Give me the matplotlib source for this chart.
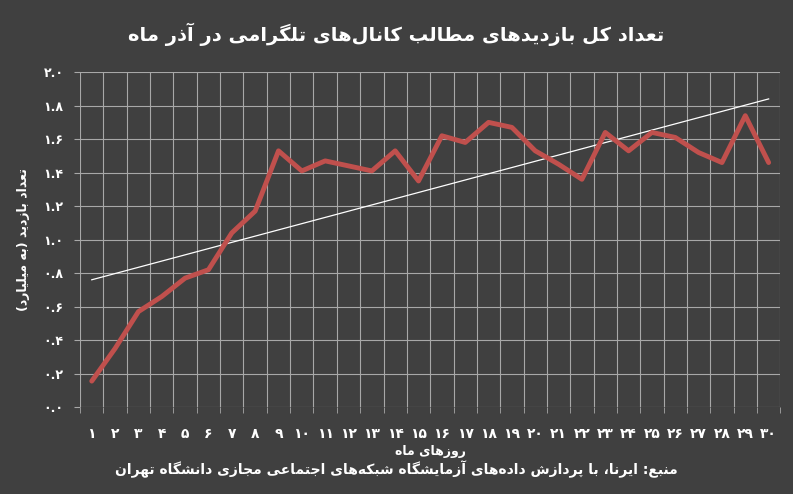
import matplotlib
matplotlib.use("Agg")
import matplotlib.pyplot as plt
import numpy as np

# بازدیدها (میلیارد) برای روزهای ۱ تا ۳۰ آذر
days = list(range(1, 31))
views = [0.155, 0.35, 0.57, 0.66, 0.77, 0.82, 1.04, 1.17, 1.53, 1.41,
         1.47, 1.44, 1.41, 1.53, 1.35, 1.62, 1.58, 1.70, 1.67, 1.53,
         1.45, 1.36, 1.64, 1.53, 1.64, 1.61, 1.52, 1.46, 1.74, 1.46]
trend_ends = [0.76, 1.84]
yticks = [0.0, 0.2, 0.4, 0.6, 0.8, 1.0, 1.2, 1.4, 1.6, 1.8, 2.0]

title = "تعداد کل بازدیدهای مطالب کانال\u200cهای تلگرامی در آذر ماه"
ylabel = "تعداد بازدید (به میلیارد)"
xlabel = "روزهای ماه"
source = "منبع: ایرنا، با پردازش داده\u200cهای آزمایشگاه شبکه\u200cهای اجتماعی مجازی دانشگاه تهران"

# presentation forms: isolated, final, initial, medial
FORMS = {
    'ا': (0xFE8D, 0xFE8E), 'آ': (0xFE81, 0xFE82), 'د': (0xFEA9, 0xFEAA),
    'ذ': (0xFEAB, 0xFEAC), 'ر': (0xFEAD, 0xFEAE), 'ز': (0xFEAF, 0xFEB0),
    'ژ': (0xFB8A, 0xFB8B), 'و': (0xFEED, 0xFEEE),
    'ب': (0xFE8F, 0xFE90, 0xFE91, 0xFE92), 'ت': (0xFE95, 0xFE96, 0xFE97, 0xFE98),
    'ث': (0xFE99, 0xFE9A, 0xFE9B, 0xFE9C), 'ج': (0xFE9D, 0xFE9E, 0xFE9F, 0xFEA0),
    'ح': (0xFEA1, 0xFEA2, 0xFEA3, 0xFEA4), 'خ': (0xFEA5, 0xFEA6, 0xFEA7, 0xFEA8),
    'س': (0xFEB1, 0xFEB2, 0xFEB3, 0xFEB4), 'ش': (0xFEB5, 0xFEB6, 0xFEB7, 0xFEB8),
    'ص': (0xFEB9, 0xFEBA, 0xFEBB, 0xFEBC), 'ض': (0xFEBD, 0xFEBE, 0xFEBF, 0xFEC0),
    'ط': (0xFEC1, 0xFEC2, 0xFEC3, 0xFEC4), 'ظ': (0xFEC5, 0xFEC6, 0xFEC7, 0xFEC8),
    'ع': (0xFEC9, 0xFECA, 0xFECB, 0xFECC), 'غ': (0xFECD, 0xFECE, 0xFECF, 0xFED0),
    'ف': (0xFED1, 0xFED2, 0xFED3, 0xFED4), 'ق': (0xFED5, 0xFED6, 0xFED7, 0xFED8),
    'ل': (0xFEDD, 0xFEDE, 0xFEDF, 0xFEE0), 'م': (0xFEE1, 0xFEE2, 0xFEE3, 0xFEE4),
    'ن': (0xFEE5, 0xFEE6, 0xFEE7, 0xFEE8), 'ه': (0xFEE9, 0xFEEA, 0xFEEB, 0xFEEC),
    'ی': (0xFBFC, 0xFBFD, 0xFBFE, 0xFBFF), 'ک': (0xFB8E, 0xFB8F, 0xFB90, 0xFB91),
    'گ': (0xFB92, 0xFB93, 0xFB94, 0xFB95), 'پ': (0xFB56, 0xFB57, 0xFB58, 0xFB59),
    'چ': (0xFB7A, 0xFB7B, 0xFB7C, 0xFB7D),
}
MIRROR = {'(': ')', ')': '('}


def fa(text):
    """shape Persian letters and reverse for left-to-right drawing"""
    out = []
    n = len(text)
    for i, ch in enumerate(text):
        if ch == '\u200c':
            continue
        if ch not in FORMS:
            out.append(MIRROR.get(ch, ch))
            continue
        prev = text[i - 1] if i > 0 else ''
        nxt = text[i + 1] if i + 1 < n else ''
        join_prev = prev in FORMS and len(FORMS[prev]) == 4
        join_next = len(FORMS[ch]) == 4 and nxt in FORMS
        f = FORMS[ch]
        if join_prev and join_next:
            c = f[3]
        elif join_next:
            c = f[2]
        elif join_prev:
            c = f[1]
        else:
            c = f[0]
        out.append(chr(c))
    return ''.join(reversed(out))


def fa_digits(s):
    return s.translate(str.maketrans('0123456789', '۰۱۲۳۴۵۶۷۸۹'))


plt.rcParams['font.family'] = ['DejaVu Sans']
bg = '#404040'
fig = plt.figure(figsize=(7.93, 4.94), dpi=100, facecolor=bg)
ax = fig.add_axes([0.101, 0.176, 0.883, 0.678], facecolor=bg)

ax.plot(days, views, color='#c0504d', linewidth=3.5, solid_capstyle='round', zorder=3)
ax.plot([days[0], days[-1]], trend_ends, color='white', linewidth=0.9, zorder=2)

ax.set_xlim(0.5, 30.5)
ax.set_ylim(0, 2.0)
ax.set_xticks(days)
ax.set_xticklabels([fa_digits(str(d)) for d in days], color='white',
                   fontsize=10, fontweight='bold')
ax.set_xticks(np.arange(0.5, 31, 1), minor=True)
ax.set_yticks(yticks)
ax.set_yticklabels([fa_digits(f"{v:.1f}") for v in yticks], color='white',
                   fontsize=9, fontweight='bold')
ax.tick_params(axis='x', which='major', length=0, pad=14)
ax.tick_params(axis='x', which='minor', length=4, color='#a8a8a8')
ax.tick_params(axis='y', length=4, color='#a8a8a8', pad=8)
ax.grid(True, axis='y', color='#a8a8a8', linewidth=0.8)
ax.grid(True, axis='x', which='minor', color='#a8a8a8', linewidth=0.8)
for s in ax.spines.values():
    s.set_visible(False)

ax.set_ylabel(fa(ylabel), color='white', fontsize=9, fontweight='bold', labelpad=10)
ax.set_xlabel(fa(xlabel), color='white', fontsize=9, fontweight='bold', labelpad=3)
fig.text(0.5, 0.918, fa(title), color='white', fontsize=14, fontweight='bold', ha='center')
fig.text(0.5, 0.04, fa(source), color='white', fontsize=10, fontweight='bold', ha='center')

fig.savefig('out.png', dpi=100, facecolor=bg)
